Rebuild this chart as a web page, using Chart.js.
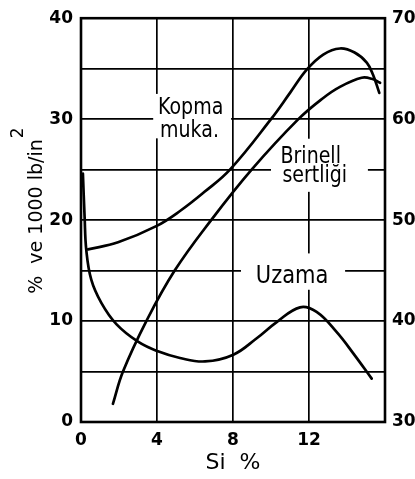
<!DOCTYPE html>
<html><head><meta charset="utf-8">
<script src="https://cdn.jsdelivr.net/npm/chart.js@4/dist/chart.umd.min.js"></script>
<style>html,body{margin:0;padding:0;background:#fff;}canvas{display:block;}</style>
</head><body>
<canvas id="c" width="415" height="479"></canvas>
<script>
// ---- data ----
const xTicks = [0, 4, 8, 12];
const kopmaX = [0.37, 1.95, 3.96, 5.21, 6.5, 7.84, 10.0, 11.0, 11.88, 12.75, 13.63, 14.4, 15.04, 15.37, 15.7];
const kopmaY = [17.1, 17.8, 19.4, 20.9, 22.8, 25.0, 30.0, 32.6, 34.9, 36.4, 37.0, 36.6, 35.6, 34.4, 32.6];
const brinellX = [1.68, 2.21, 3.44, 4.93, 6.85, 8.98, 11.44, 12.75, 13.63, 14.77, 15.3, 15.74];
const brinellY = [31.8, 35.0, 40.0, 45.0, 50.0, 55.0, 60.0, 62.1, 63.2, 64.1, 64.0, 63.6];
const uzamaX = [0.1, 0.19, 0.28, 0.54, 1.07, 1.86, 3.0, 4.05, 5.21, 6.53, 8.02, 9.25, 10.3, 11.53, 12.4, 13.46, 14.33, 15.3];
const uzamaY = [24.6, 20.3, 17.0, 14.1, 11.8, 9.7, 7.96, 7.0, 6.34, 6.0, 6.67, 8.3, 9.9, 11.36, 10.9, 8.9, 6.8, 4.3];
const xTitle = 'Si  %';
const yTitle = '%  ve 1000 lb/in';
const yTitleSup = '2';
const curveNames = ['Kopma muka.', 'Brinell sertliği', 'Uzama'];

// ---- annotation placement (data coordinates on x / left y) ----
const notes = [
  {lines: ['Kopma', 'muka.'], x: [4.05, 4.16], y: [30.5, 28.2], box: [3.8, 7.9, 28.1, 32.5], size: 19},
  {lines: ['Brinell', 'sertliği'], x: [10.5, 10.6], y: [25.7, 23.8], box: [10.0, 15.1, 22.8, 28.06], size: 19},
  {lines: ['Uzama'], x: [9.2], y: [13.8], box: [8.42, 13.9, 13.1, 16.7], size: 21}
];

const pts = (xs, ys) => xs.map((x, i) => ({x, y: ys[i]}));
const FONT = '"DejaVu Sans", sans-serif';

const notesPlugin = {
  id: 'notes',
  beforeDatasetsDraw(chart) {
    const {ctx, scales: {x, y}} = chart;
    ctx.save();
    notes.forEach(n => {
      const x0 = x.getPixelForValue(n.box[0]), x1 = x.getPixelForValue(n.box[1]);
      const y0 = y.getPixelForValue(n.box[3]), y1 = y.getPixelForValue(n.box[2]);
      ctx.fillStyle = '#fff';
      ctx.fillRect(x0, y0, x1 - x0, y1 - y0);
      ctx.fillStyle = '#000';
      ctx.font = n.size + 'px ' + FONT;
      ctx.textAlign = 'left';
      ctx.textBaseline = 'alphabetic';
      n.lines.forEach((t, i) => {
        const px = x.getPixelForValue(n.x[i]), py = y.getPixelForValue(n.y[i]);
        ctx.save();
        ctx.translate(px, py);
        ctx.scale(1, 1.18);
        ctx.fillText(t, 0, 0);
        ctx.restore();
      });
    });
    ctx.restore();
  },
  afterDatasetsDraw(chart) {
    const {ctx, chartArea: a} = chart;
    ctx.save();
    ctx.strokeStyle = '#000';
    ctx.lineWidth = 2.6;
    ctx.strokeRect(a.left, a.top, a.right - a.left, a.bottom - a.top);
    ctx.restore();
  },
  afterDraw(chart) {
    const {ctx, chartArea: a} = chart;
    ctx.save();
    ctx.fillStyle = '#000';
    ctx.font = '19px ' + FONT;
    const w1 = ctx.measureText(yTitle).width;
    ctx.font = '17px ' + FONT;
    const w2 = ctx.measureText(yTitleSup).width;
    const total = w1 + w2 + 2;
    const cy = (a.top + a.bottom) / 2 - 10;
    ctx.translate(42, cy + total / 2);
    ctx.rotate(-Math.PI / 2);
    ctx.textAlign = 'left';
    ctx.textBaseline = 'alphabetic';
    ctx.font = '19px ' + FONT;
    ctx.fillText(yTitle, 0, 0);
    ctx.font = '17px ' + FONT;
    ctx.fillText(yTitleSup, w1 + 1, -19);
    ctx.restore();
  }
};

const lineDs = (label, data, axis) => ({
  label, data, yAxisID: axis,
  borderColor: '#000', borderWidth: 2.7, pointRadius: 0,
  tension: 0.4, fill: false, borderCapStyle: 'round'
});

new Chart(document.getElementById('c'), {
  type: 'line',
  data: {
    datasets: [
      lineDs(curveNames[0], pts(kopmaX, kopmaY), 'y'),
      lineDs(curveNames[1], pts(brinellX, brinellY), 'y2'),
      lineDs(curveNames[2], pts(uzamaX, uzamaY), 'y')
    ]
  },
  options: {
    responsive: false, animation: false, devicePixelRatio: 1,
    layout: {padding: {top: 10, left: 0, right: 0, bottom: 0}},
    plugins: {legend: {display: false}, tooltip: {enabled: false}},
    scales: {
      x: {
        type: 'linear', min: 0, max: 16,
        afterBuildTicks: s => { s.ticks = xTicks.map(v => ({value: v})); },
        afterFit: s => { s.height = 57; },
        grid: {color: '#000', lineWidth: 1.7, drawTicks: false},
        border: {display: false},
        ticks: {color: '#000', font: {family: FONT, size: 17, weight: 'bold'}, padding: 8, maxRotation: 0, autoSkip: false},
        title: {display: true, text: xTitle, color: '#000', font: {family: FONT, size: 22}, padding: {top: 0, bottom: 3}}
      },
      y: {
        position: 'left', min: 0, max: 40,
        ticks: {stepSize: 5, color: '#000', font: {family: FONT, size: 17, weight: 'bold'}, padding: 8,
          callback: v => (v % 10 === 0 ? v : '')},
        afterFit: s => { s.width = 81; },
        grid: {color: '#000', lineWidth: 1.7, drawTicks: false},
        border: {display: false}
      },
      y2: {
        position: 'right', min: 30, max: 70,
        ticks: {stepSize: 10, color: '#000', font: {family: FONT, size: 17, weight: 'bold'}, padding: 7},
        afterFit: s => { s.width = 30; },
        grid: {display: false, drawTicks: false},
        border: {display: false}
      }
    }
  },
  plugins: [notesPlugin]
});
</script>
</body></html>
